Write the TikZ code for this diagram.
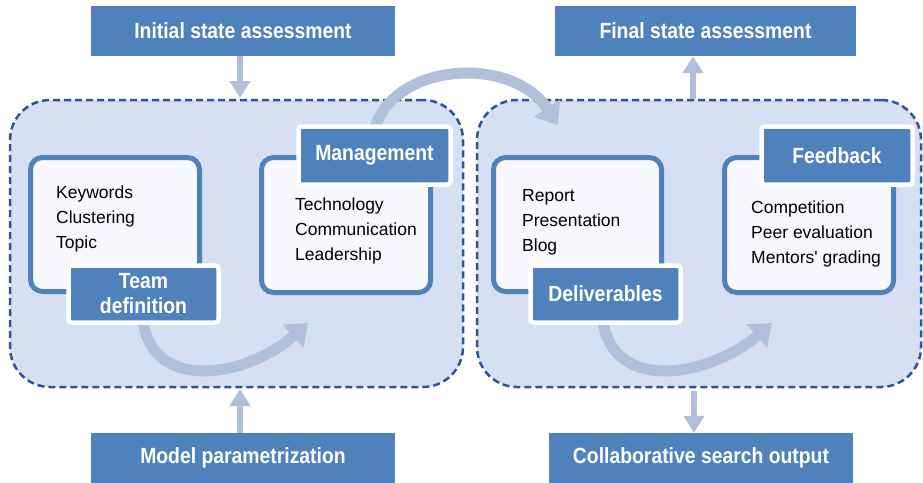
\documentclass[tikz,border=0pt]{standalone}
\usepackage{fontspec}
\setmainfont[Ligatures=TeXOff]{Liberation Sans}
\newfontfamily\labelfont[FakeStretch=0.88]{Liberation Sans}
\usetikzlibrary{arrows.meta}

\definecolor{labelblue}{HTML}{4F81BD}
\definecolor{dashblue}{HTML}{2F5496}
\definecolor{panelfill}{HTML}{D7E0F2}
\definecolor{boxfill}{HTML}{F8F9FC}
\definecolor{arrowgray}{HTML}{B0C0DA}

\begin{document}
\begin{tikzpicture}[x=1pt,y=-1pt,
  panel/.style={draw=dashblue, dash pattern=on 7pt off 4pt, line width=2.5pt,
    fill=panelfill, rounded corners=40pt, inner sep=0pt},
  headbox/.style={fill=labelblue, text=white, inner sep=0pt, align=center,
    font=\labelfont\bfseries\fontsize{22}{26}\selectfont},
  tagbox/.style={headbox, draw=white, line width=4.5pt, rounded corners=3pt},
  itembox/.style={draw=labelblue, line width=5pt, fill=boxfill,
    rounded corners=12pt, inner sep=0pt},
  itemtext/.style={anchor=west, inner sep=0pt, align=left,
    font=\fontsize{17.5}{25}\selectfont},
  flow/.style={draw=arrowgray, line width=11pt,
    -{Triangle[width=30pt,length=20pt]}},
  vlink/.style={draw=arrowgray, line width=6pt,
    -{Triangle[width=20pt,length=17pt]}}
]
\useasboundingbox (0,0) rectangle (923,482);

% the two dashed phases
\node[panel, minimum width=453pt, minimum height=287pt] (leftpanel) at (236.5,243.5) {};
\node[panel, minimum width=444pt, minimum height=287pt] (rightpanel) at (699,243.5) {};

% outer input/output boxes
\node[headbox, minimum width=304pt, minimum height=50pt] (init) at (243,31) {Initial state assessment};
\node[headbox, minimum width=301pt, minimum height=50pt] (final) at (705.5,31) {Final state assessment};
\node[headbox, minimum width=304pt, minimum height=50pt] (model) at (243,458) {Model parametrization};
\node[headbox, minimum width=304pt, minimum height=50pt] (collab) at (701,458) {Collaborative search output};

% anchors for the curved flows
\coordinate (c1s) at (143,322);
\coordinate (c1e) at (308,323);
\coordinate (c2s) at (603,322);
\coordinate (c2e) at (772,323);
\coordinate (c3s) at (375,128);
\coordinate (c3e) at (558,125);

\draw[flow] (c1s) .. controls (155,395) and (250,375) .. (c1e);
\draw[flow] (c2s) .. controls (615,395) and (712,375) .. (c2e);
\draw[flow] (c3s) .. controls (395,62) and (512,55) .. (c3e);

% vertical links
\coordinate (initin) at (240,98);
\coordinate (finalout) at (693,99);
\coordinate (modelin) at (240,389);
\coordinate (collabout) at (694,391);
\draw[vlink] (init.south -| initin) -- (initin);
\draw[vlink] (finalout) -- (final.south -| finalout);
\draw[vlink] (model.north -| modelin) -- (modelin);
\draw[vlink] (collabout) -- (collab.north -| collabout);

% item boxes
\node[itembox, minimum width=169pt, minimum height=134pt] (teambox) at (115,224.5) {};
\node[itembox, minimum width=169pt, minimum height=135pt] (mgmtbox) at (346,225) {};
\node[itembox, minimum width=168pt, minimum height=134pt] (delbox) at (577.5,224.5) {};
\node[itembox, minimum width=169pt, minimum height=135pt] (feedbox) at (809,225) {};

% item texts
\node[itemtext] (teamtxt) at (56,219) {Keywords\\Clustering\\Topic};
\node[itemtext] (mgmttxt) at (295,231) {Technology\\Communication\\Leadership};
\node[itemtext] (deltxt) at (522,222) {Report\\Presentation\\Blog};
\node[itemtext] (feedtxt) at (751,234) {Competition\\Peer evaluation\\Mentors' grading};

% tags
\node[tagbox, minimum width=150pt, minimum height=57pt] (teamtag) at (143.5,294) {Team\\[-1pt]definition};
\node[tagbox, minimum width=152pt, minimum height=58pt] (mgmttag) at (374.5,155.5) {Management};
\node[tagbox, minimum width=150pt, minimum height=57pt] (deltag) at (605.5,294) {Deliverables};
\node[tagbox, minimum width=151pt, minimum height=58pt] (feedtag) at (837,155.5) {Feedback};
\end{tikzpicture}
\end{document}
